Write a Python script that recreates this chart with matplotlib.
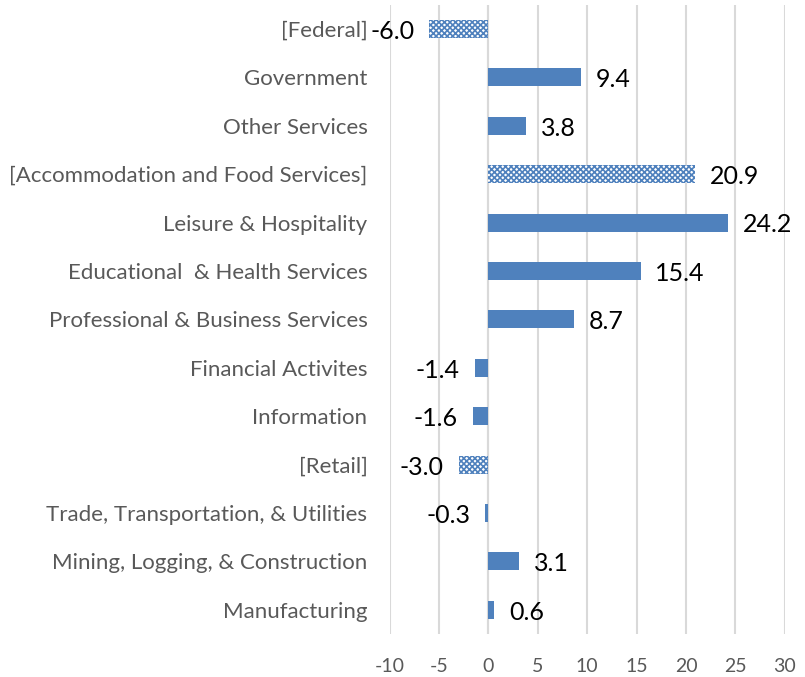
import matplotlib.pyplot as plt

# Categories top to bottom, with values (percent change)
categories = ["[Federal]", "Government", "Other Services",
              "[Accommodation and Food Services]", "Leisure & Hospitality",
              "Educational  & Health Services", "Professional & Business Services",
              "Financial Activites", "Information", "[Retail]",
              "Trade, Transportation, & Utilities", "Mining, Logging, & Construction",
              "Manufacturing"]
values = [-6.0, 9.4, 3.8, 20.9, 24.2, 15.4, 8.7, -1.4, -1.6, -3.0, -0.3, 3.1, 0.6]
patterned = ["[Federal]", "[Accommodation and Food Services]", "[Retail]"]
xticks = [-10, -5, 0, 5, 10, 15, 20, 25, 30]

plt.rcParams['font.family'] = ['Lato', 'DejaVu Sans']
plt.rcParams['hatch.linewidth'] = 1.2

fig = plt.figure(figsize=(8.05, 6.77), dpi=100)
ax = fig.add_axes([0.484, 0.0635, 0.491, 0.9295])

blue = "#4f81bd"
ypos = list(range(len(categories)))
for y, cat, v in zip(ypos, categories, values):
    if cat in patterned:
        ax.barh(y, v, height=0.37, color="white", edgecolor=blue, hatch="xxxxxx",
                linewidth=0, zorder=3)
    else:
        ax.barh(y, v, height=0.37, color=blue, zorder=3)
    off = 1.5 if v >= 0 else -1.5
    ax.text(v + off, y + 0.05, f"{v:.1f}", ha="left" if v >= 0 else "right",
            va="center", fontsize=18, color="black")

ax.set_yticks(ypos)
ax.set_yticklabels(categories, fontsize=16, color="#595959")
ax.set_ylim(len(categories) - 0.5, -0.5)
ax.set_xlim(-10, 30)
ax.set_xticks(xticks)
ax.set_xticklabels([str(t) for t in xticks], fontsize=14, color="#595959")
ax.tick_params(axis="y", length=0, pad=16)
ax.tick_params(axis="x", length=0, pad=17)
ax.xaxis.grid(True, color="#d9d9d9", linewidth=1.5, zorder=0)
ax.axvline(0, color="#d9d9d9", linewidth=1.5, zorder=1)
for s in ax.spines.values():
    s.set_visible(False)

fig.savefig("out.png", dpi=100)
